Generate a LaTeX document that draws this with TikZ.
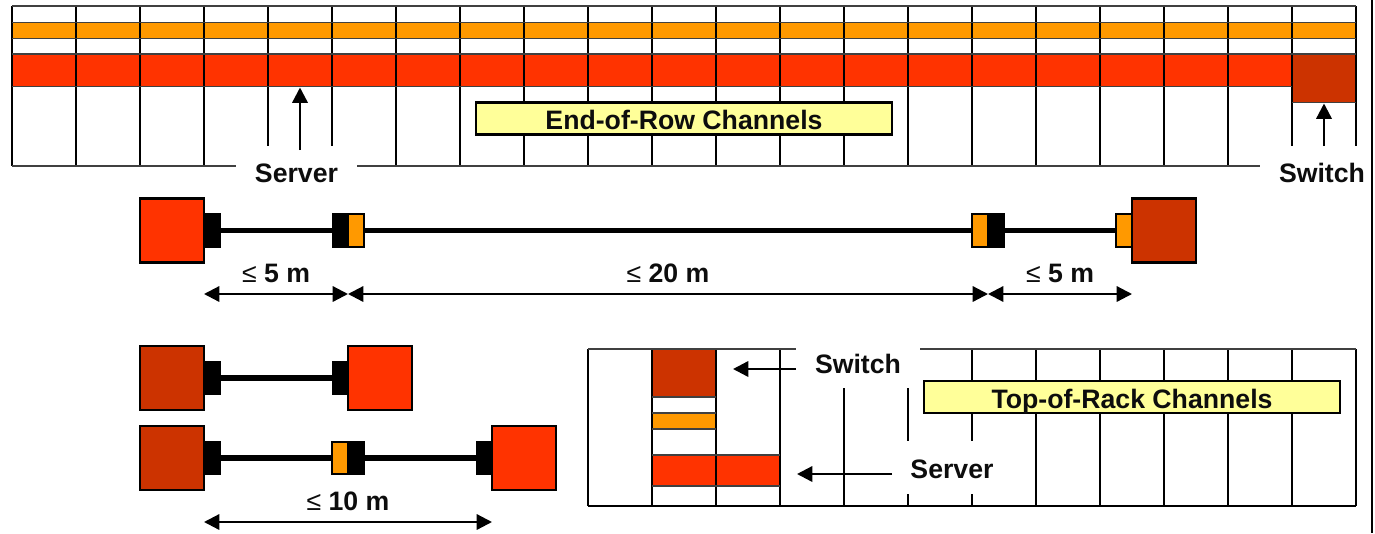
\documentclass[tikz,border=0pt]{standalone}
\usepackage{fontspec}
\setmainfont{Liberation Sans}
\usetikzlibrary{arrows.meta}
\definecolor{srv}{HTML}{FF3300}
\definecolor{sw}{HTML}{CC3300}
\definecolor{org}{HTML}{FF9900}
\definecolor{yel}{HTML}{FFFF99}
\newcommand{\lefq}{{\fontseries{m}\selectfont ≤}}
\tikzset{
  px/.style={x=0.75pt,y=-0.75pt},
  vline/.style={line width=1.8pt,black},
  hline/.style={line width=1.3pt,black!75},
  unitbox/.style={draw=black,line width=1.8pt,minimum width=48pt,minimum height=48pt,inner sep=0pt,outer sep=0pt},
  srvbox/.style={unitbox,fill=srv},
  swbox/.style={unitbox,fill=sw},
  blackplug/.style={fill=black,draw=black,line width=0.6pt,minimum width=12pt,minimum height=25pt,inner sep=0pt,outer sep=0pt},
  orgplug/.style={fill=org,draw=black,line width=1.5pt,minimum width=11.5pt,minimum height=24.5pt,inner sep=0pt,outer sep=0pt},
  cable/.style={line width=4pt,black},
  dim/.style={line width=1.7pt,black,{Triangle[length=11.5pt,width=11.5pt]}-{Triangle[length=11.5pt,width=11.5pt]}},
  pointer/.style={line width=1.8pt,black,-{Triangle[length=11.5pt,width=11.5pt]}},
  lab/.style={font=\bfseries\fontsize{20}{22}\selectfont,inner sep=0pt,text=black!95},
  banner/.style={draw=black,line width=1.8pt,fill=yel,minimum width=312pt,minimum height=24pt,inner sep=0pt,outer sep=0pt},
}
\begin{document}
\begin{tikzpicture}[px]
\useasboundingbox (0,0) rectangle (1375,533);
\fill[white] (0,0) rectangle (1375,533);
% page edge rule
\draw[line width=1.8pt] (1372,0) -- (1372,533);

% ===== End-of-row grid =====
\fill[org] (12,22) rectangle (1356,38);
\fill[srv] (12,54) rectangle (1292,86);
\fill[sw] (1292,54) rectangle (1356,102);
\foreach \x in {12,76,140,204,396,460,524,588,652,716,780,844,908,972,1036,1100,1164,1228}
  \draw[vline] (\x,6) -- (\x,166);
\foreach \x in {268,332,1292,1356}
  \draw[vline] (\x,6) -- (\x,146);
\draw[hline] (12,6) -- (1356,6);
\draw[hline] (12,22.5) -- (1356,22.5);
\draw[hline] (12,38.5) -- (1356,38.5);
\draw[hline] (12,54) -- (1356,54);
\draw[hline] (12,86.5) -- (1292,86.5);
\draw[hline] (1292,102.5) -- (1356,102.5);
\draw[hline] (12,166) -- (236,166);
\draw[hline] (357,166) -- (1260,166);
\node[banner] (eor) at (684,118.5) {};
\node[lab] (eorlab) at (684,120) {End-of-Row Channels};
\node[lab] (srvA) at (296.5,173) {Server};
\node[lab] (swA) at (1322,173) {Switch};
\coordinate (srvAfrom) at (300,150);
\coordinate (srvAto) at (300,87.5);
\coordinate (swAfrom) at (1324,146);
\coordinate (swAto) at (1324,103.5);
\draw[pointer] (srvAfrom) -- (srvAto);
\draw[pointer] (swAfrom) -- (swAto);

% ===== Long channel =====
\node[srvbox] (a1) at (172,230.5) {};
\node[blackplug] (a2) at (212,230.5) {};
\node[blackplug] (a3) at (340,230.5) {};
\node[orgplug] (a4) at (356,230.5) {};
\node[orgplug] (a5) at (980,230.5) {};
\node[blackplug] (a6) at (996,230.5) {};
\node[orgplug] (a7) at (1124,230.5) {};
\node[swbox] (a8) at (1164,230.5) {};
\draw[cable] (a2.east) -- (a3.west);
\draw[cable] (a4.east) -- (a5.west);
\draw[cable] (a6.east) -- (a7.west);
\coordinate (d1) at (204,294);
\coordinate (d2) at (348,294);
\coordinate (d3) at (988,294);
\coordinate (d4) at (1132,294);
\draw[dim] (d1) -- (d2);
\draw[dim] (d2) -- (d3);
\draw[dim] (d3) -- (d4);
\node[lab] (l1) at (276,273.5) {\lefq{} 5 m};
\node[lab] (l2) at (668,273.5) {\lefq{} 20 m};
\node[lab] (l3) at (1060,273.5) {\lefq{} 5 m};

% ===== Short channels =====
\node[swbox] (b1) at (172,378) {};
\node[blackplug] (b2) at (212,378) {};
\node[blackplug] (b3) at (340,378) {};
\node[srvbox] (b4) at (380,378) {};
\draw[cable] (b2.east) -- (b3.west);

\node[swbox] (c1) at (172,458) {};
\node[blackplug] (c2) at (212,458) {};
\node[orgplug] (c3) at (340,458) {};
\node[blackplug] (c4) at (356,458) {};
\node[blackplug] (c5) at (484,458) {};
\node[srvbox] (c6) at (524,458) {};
\draw[cable] (c2.east) -- (c3.west);
\draw[cable] (c4.east) -- (c5.west);
\coordinate (d5) at (204,522);
\coordinate (d6) at (492,522);
\draw[dim] (d5) -- (d6);
\node[lab] (l4) at (348,501) {\lefq{} 10 m};

% ===== Top-of-rack grid =====
\fill[sw] (652,349) rectangle (716,397);
\fill[org] (652,413) rectangle (716,429);
\fill[srv] (652,455) rectangle (780,486);
\foreach \x in {588,652,716,780,1036,1100,1164,1228,1292,1356}
  \draw[vline] (\x,349) -- (\x,506);
\draw[vline] (844,388) -- (844,506);
\draw[vline] (908,388) -- (908,441);
\draw[vline] (908,494) -- (908,506);
\draw[vline] (972,349) -- (972,441);
\draw[vline] (972,494) -- (972,506);
\draw[hline] (588,349) -- (796,349);
\draw[hline] (920,349) -- (1356,349);
\draw[vline] (588,506) -- (1356,506);
\draw[hline] (652,397) -- (716,397);
\draw[hline] (652,413) -- (716,413);
\draw[hline] (652,429) -- (716,429);
\draw[hline] (652,455) -- (780,455);
\draw[hline] (652,486) -- (780,486);
\node[banner] (tor) at (1132,397) {};
\node[lab] (torlab) at (1132,402) {Top-of-Rack Channels};
\node[lab] (swB) at (858,364) {Switch};
\node[lab] (srvB) at (952,469) {Server};
\coordinate (swBfrom) at (796,369);
\coordinate (swBto) at (733,369);
\coordinate (srvBfrom) at (892,474);
\coordinate (srvBto) at (797,474);
\draw[pointer] (swBfrom) -- (swBto);
\draw[pointer] (srvBfrom) -- (srvBto);
\end{tikzpicture}
\end{document}
